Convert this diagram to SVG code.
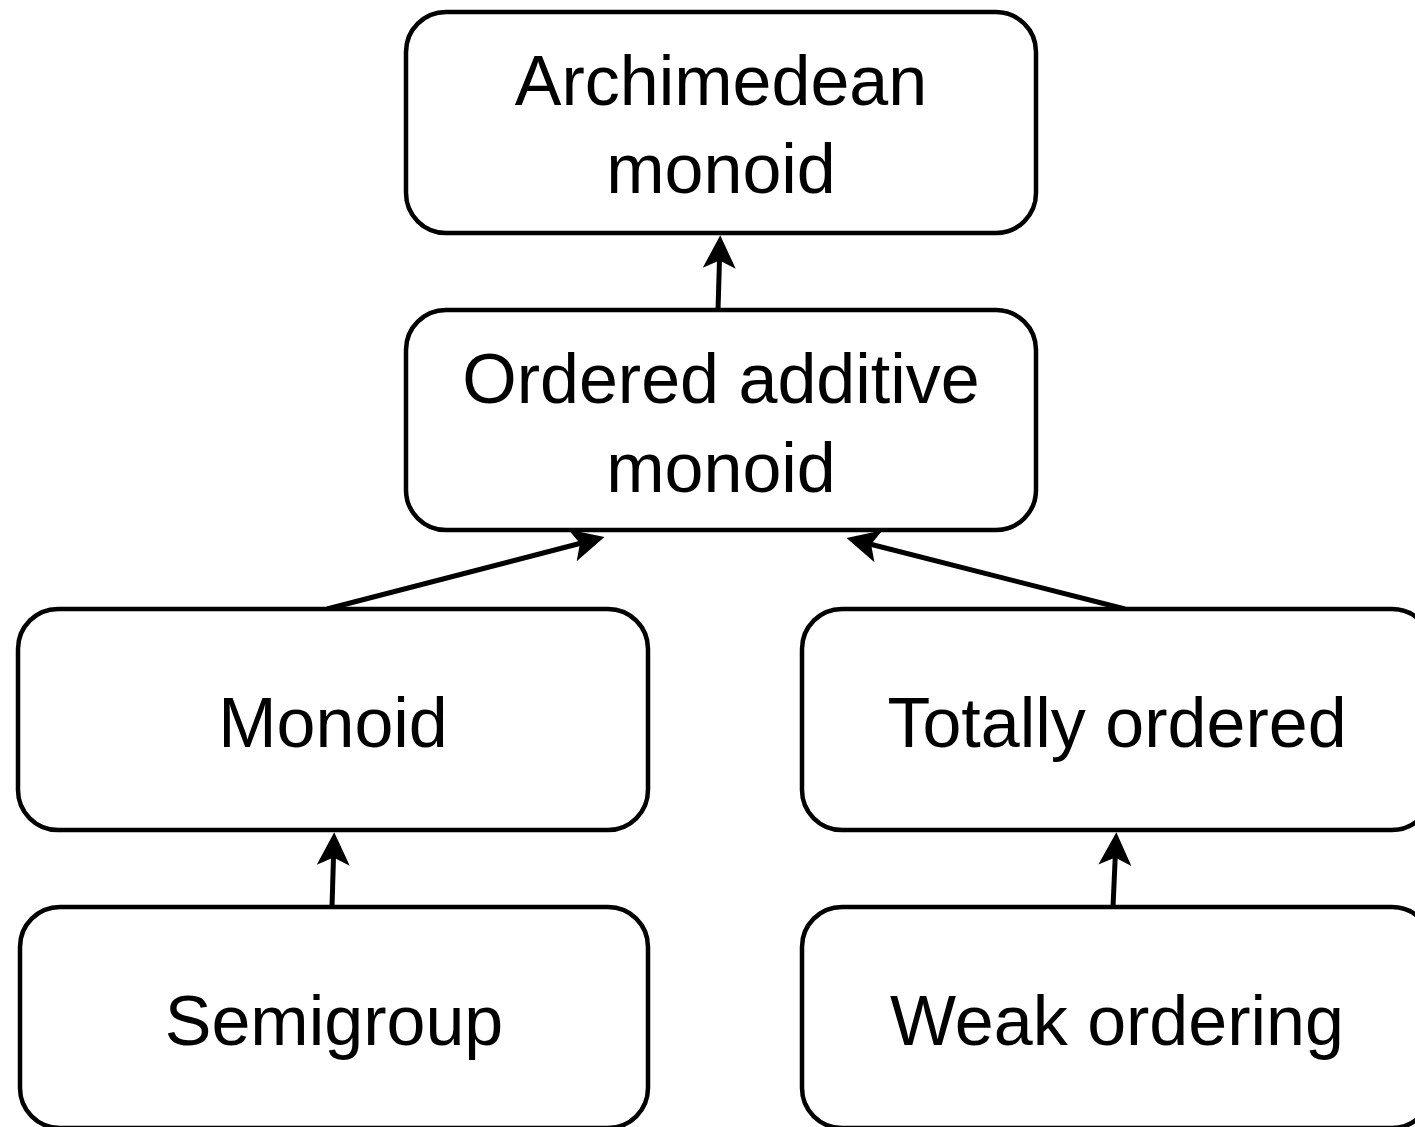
<svg xmlns="http://www.w3.org/2000/svg" width="1415" height="1127" viewBox="0 0 1415 1127">
<style>
.box{fill:#fff;stroke:#000;stroke-width:4.5}
.lbl{font-family:"Liberation Sans",Arial,sans-serif;font-size:70px;fill:#000;text-anchor:middle}
.conn{stroke:#000;stroke-width:5;fill:none}
</style>
<defs>
<marker id="ah" markerUnits="userSpaceOnUse" markerWidth="44" markerHeight="40" viewBox="-32 -17 40 34" refX="-7" refY="0" orient="auto">
<path d="M0,0 L-30,-15 L-23,0 L-30,15 Z" fill="#000"/>
</marker>
</defs>
<rect width="1415" height="1127" fill="#fff"/>
<g id="connectors">
<line class="conn" x1="718" y1="310" x2="720" y2="243" marker-end="url(#ah)"/>
<line class="conn" x1="327" y1="609" x2="597" y2="539" marker-end="url(#ah)"/>
<line class="conn" x1="1125" y1="609" x2="854" y2="540" marker-end="url(#ah)"/>
<line class="conn" x1="332" y1="907" x2="334" y2="840" marker-end="url(#ah)"/>
<line class="conn" x1="1113" y1="907" x2="1116" y2="840" marker-end="url(#ah)"/>
</g>
<g id="archimedean">
<rect class="box" x="406" y="12" width="630" height="221" rx="40"/>
<text class="lbl" x="721" y="105">Archimedean</text>
<text class="lbl" x="721" y="193">monoid</text>
</g>
<g id="ordered-additive">
<rect class="box" x="406" y="310" width="630" height="220" rx="40"/>
<text class="lbl" x="721" y="403">Ordered additive</text>
<text class="lbl" x="721" y="492">monoid</text>
</g>
<g id="monoid">
<rect class="box" x="18" y="609" width="630" height="221" rx="40"/>
<text class="lbl" x="333" y="747">Monoid</text>
</g>
<g id="totally-ordered">
<rect class="box" x="802" y="609" width="630" height="221" rx="40"/>
<text class="lbl" x="1117" y="747">Totally ordered</text>
</g>
<g id="semigroup">
<rect class="box" x="20" y="907" width="628" height="221" rx="40"/>
<text class="lbl" x="334" y="1045">Semigroup</text>
</g>
<g id="weak-ordering">
<rect class="box" x="802" y="907" width="630" height="221" rx="40"/>
<text class="lbl" x="1117" y="1045">Weak ordering</text>
</g>
</svg>
